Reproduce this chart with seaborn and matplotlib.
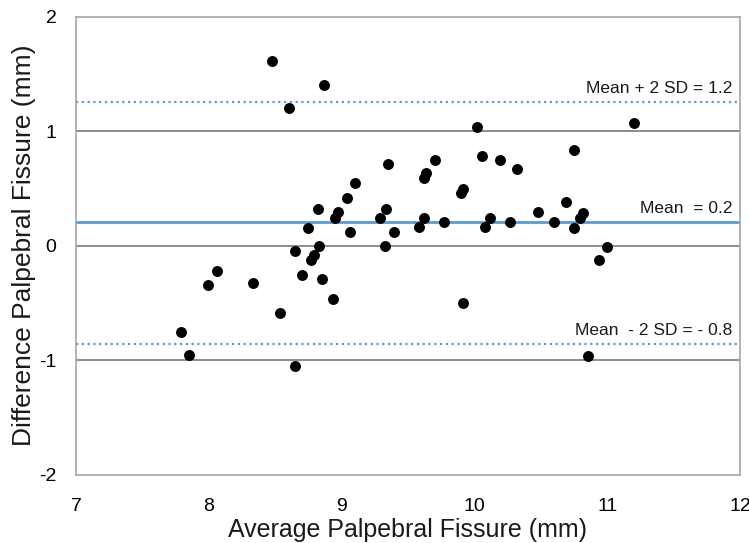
import matplotlib
matplotlib.use("Agg")
import matplotlib.pyplot as plt
import seaborn as sns
import pandas as pd

avg_fissure = [8.478, 8.604, 8.867, 8.825, 8.747, 8.651, 8.832, 8.790, 8.770, 8.062,
               7.997, 8.330, 8.704, 8.852, 8.536, 7.788, 7.848, 8.651, 10.017, 8.953,
               8.975, 9.040, 9.103, 9.063, 9.352, 9.334, 9.292, 9.397, 9.330, 9.703,
               9.636, 9.620, 9.583, 9.623, 9.774, 9.917, 9.897, 10.057, 10.193, 10.323,
               10.080, 10.117, 10.266, 8.935, 9.914, 11.204, 10.750, 10.477, 10.690, 10.600,
               10.818, 10.797, 10.750, 10.998, 10.938, 10.853]
diff_fissure = [1.613, 1.200, 1.400, 0.323, 0.152, -0.050, -0.005, -0.084, -0.125, -0.218,
                -0.340, -0.330, -0.255, -0.294, -0.585, -0.757, -0.957, -1.048, 1.034, 0.239,
                0.297, 0.420, 0.548, 0.122, 0.711, 0.323, 0.239, 0.122, -0.005, 0.746,
                0.632, 0.589, 0.161, 0.245, 0.204, 0.493, 0.458, 0.786, 0.746, 0.670,
                0.161, 0.245, 0.204, -0.463, -0.503, 1.072, 0.839, 0.297, 0.379, 0.204,
                0.288, 0.239, 0.155, -0.009, -0.128, -0.960]

mean_val = 0.21
upper_val = 1.258
lower_val = -0.856
mean_label = "Mean  = 0.2"
upper_label = "Mean + 2 SD = 1.2"
lower_label = "Mean  - 2 SD = - 0.8"

x_ticks = [7, 8, 9, 10, 11, 12]
y_ticks = [-2, -1, 0, 1, 2]
y_grid = [-1, 0, 1]

df = pd.DataFrame({"avg": avg_fissure, "diff": diff_fissure})

sns.set_theme(style="white")
plt.rcParams["font.family"] = ["Liberation Sans", "DejaVu Sans"]
plt.rcParams["axes.unicode_minus"] = False

fig = plt.figure(figsize=(7.49, 5.43), dpi=100)
ax = fig.add_axes([76 / 749, 1 - 474.7 / 543, (740 - 76) / 749, (474.7 - 16.7) / 543])

for g in y_grid:
    ax.axhline(g, color="#6e6e6e", lw=1.1, zorder=1)
ax.axhline(mean_val, color="#5b9bd5", lw=2.0, zorder=2)
ax.axhline(upper_val, color="#5b9bd5", lw=1.6, ls=(0, (1, 1.6)), zorder=2)
ax.axhline(lower_val, color="#5b9bd5", lw=1.6, ls=(0, (1, 1.6)), zorder=2)

sns.scatterplot(data=df, x="avg", y="diff", ax=ax, color="black", s=62,
                edgecolor="black", linewidth=0, zorder=3, legend=False)

ax.set_xlim(7, 12)
ax.set_ylim(-2, 2)
ax.set_xticks(x_ticks)
ax.set_xticklabels([str(t) for t in x_ticks])
ax.set_yticks(y_ticks)
ax.set_yticklabels([str(t) for t in y_ticks])
ax.tick_params(axis="both", length=0, labelsize=14, colors="black")
ax.tick_params(axis="x", pad=17)
ax.tick_params(axis="y", pad=14)

for sp in ax.spines.values():
    sp.set_color("#a6a6a6")
    sp.set_linewidth(1.2)

ax.set_xlabel("Average Palpebral Fissure (mm)", fontsize=18, color="#1a1a1a", labelpad=2)
ax.set_ylabel("Difference Palpebral Fissure (mm)", fontsize=19, color="#1a1a1a", labelpad=2)

ax.text(11.94, upper_val + 0.05, upper_label, ha="right", va="bottom", fontsize=12.5, color="#1a1a1a")
ax.text(11.94, mean_val + 0.05, mean_label, ha="right", va="bottom", fontsize=12.5, color="#1a1a1a")
ax.text(11.94, lower_val + 0.05, lower_label, ha="right", va="bottom", fontsize=12.5, color="#1a1a1a")

fig.savefig("out.png", dpi=100)
